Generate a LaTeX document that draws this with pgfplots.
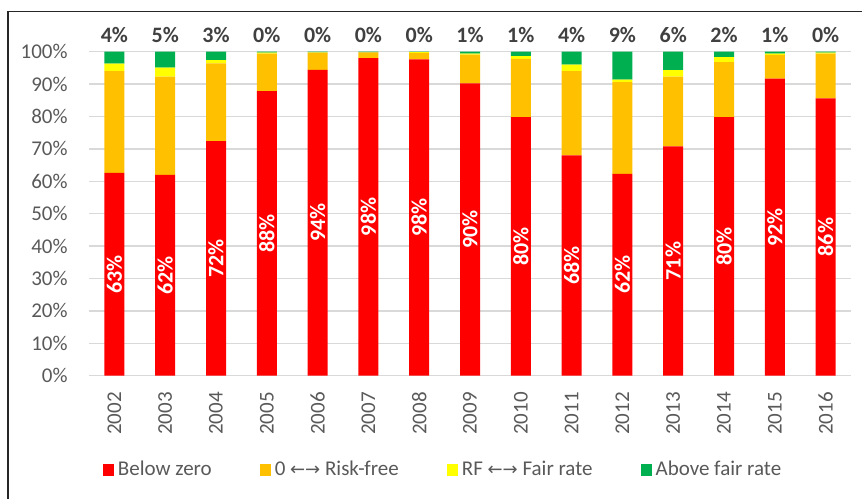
\documentclass[border=0pt]{standalone}
\usepackage{pgfplots}
\pgfplotsset{compat=1.18}
\usepackage{pgfplotstable}
\usepackage{fontspec}
\setmainfont{Carlito}
\newfontfamily\arrowfont{DejaVu Sans}
\definecolor{cRed}{HTML}{FF0000}
\definecolor{cOrange}{HTML}{FFC000}
\definecolor{cYellow}{HTML}{FFFF00}
\definecolor{cGreen}{HTML}{00B050}
\definecolor{cGrid}{HTML}{D9D9D9}
\definecolor{cText}{HTML}{595959}
\definecolor{cDark}{HTML}{404040}

\pgfplotstableread{
x  red   orange yellow green rl gl
0  62.6  31.4   2.3    3.7   63 4
1  62.0  30.3   2.8    4.9   62 5
2  72.4  24.0   1.0    2.6   72 3
3  87.8  11.6   0.3    0.3   88 0
4  94.4  5.3    0.1    0.2   94 0
5  98.0  1.8    0.0    0.2   98 0
6  97.6  2.0    0.3    0.1   98 0
7  90.2  8.9    0.3    0.6   90 1
8  79.8  18.0   0.8    1.4   80 1
9  68.0  26.0   2.0    4.0   68 4
10 62.3  28.3   0.8    8.6   62 9
11 70.8  21.5   2.0    5.7   71 6
12 79.8  17.0   1.5    1.7   80 2
13 91.7  7.3    0.4    0.6   92 1
14 85.6  13.8   0.3    0.3   86 0
}\data

\begin{document}
\begin{tikzpicture}
\useasboundingbox (0,0) rectangle (431pt,249pt);
\draw[line width=0.9pt, black!85] (4pt,-2pt) -- (4pt,243.2pt) -- (433pt,243.2pt);
\begin{axis}[
  at={(44.5pt,61.15pt)}, anchor=south west,
  scale only axis, width=381pt, height=162pt,
  ybar stacked, bar width=10pt,
  xmin=-0.5, xmax=14.5, ymin=0, ymax=100,
  xtick=data,
  xticklabels={2002,2003,2004,2005,2006,2007,2008,2009,2010,2011,2012,2013,2014,2015,2016},
  ytick={0,10,...,100},
  yticklabel={\pgfmathprintnumber{\tick}\%},
  /pgf/number format/assume math mode=true,
  ymajorgrids, grid style={cGrid, line width=0.75pt},
  axis x line*=bottom, axis y line*=left,
  x axis line style={cGrid, line width=0.75pt, -},
  y axis line style={draw=none},
  major tick length=0pt,
  tick label style={font=\fontsize{10.5}{12}\selectfont, text=cText},
  xticklabel style={rotate=90, anchor=east, inner sep=0pt},
  yticklabel style={anchor=east, inner sep=0pt},
  xticklabel shift=8pt,
  yticklabel shift=10.5pt,
  legend style={at={(0.466,-0.291)}, anchor=center, legend columns=4,
    draw=none, fill=none, font=\fontsize{10.5}{12}\selectfont, text=cText,
    /tikz/every even column/.append style={column sep=22pt}},
  legend image code/.code={\fill[#1,draw=none] (0pt,-3pt) rectangle (5.5pt,3pt);},
]
\addplot[fill=cRed, draw=none] table[x=x,y=red]{\data};
\addlegendentry{Below zero}
\addplot[fill=cOrange, draw=none] table[x=x,y=orange]{\data};
\addlegendentry{0 {\arrowfont\fontsize{9}{10}\selectfont ←→} Risk-free}
\addplot[fill=cYellow, draw=none] table[x=x,y=yellow]{\data};
\addlegendentry{RF {\arrowfont\fontsize{9}{10}\selectfont ←→} Fair rate}
\addplot[fill=cGreen, draw=none] table[x=x,y=green]{\data};
\addlegendentry{Above fair rate}
\end{axis}
\begin{axis}[
  at={(44.5pt,61.15pt)}, anchor=south west,
  scale only axis, width=381pt, height=162pt,
  xmin=-0.5, xmax=14.5, ymin=0, ymax=100, hide axis, clip=false]
\addplot[draw=none, mark=none, point meta=explicit symbolic,
  nodes near coords={\pgfplotspointmeta\%},
  nodes near coords style={font=\bfseries\fontsize{11}{13}\selectfont, text=white, rotate=90, anchor=center}]
  table[x=x, y expr=\thisrow{red}/2, meta=rl]{\data};
\addplot[draw=none, mark=none, point meta=explicit symbolic,
  nodes near coords={\pgfplotspointmeta\%},
  nodes near coords style={font=\bfseries\fontsize{11}{13}\selectfont, text=cDark, anchor=center, yshift=8.35pt}]
  table[x=x, y expr=100, meta=gl]{\data};
\end{axis}
\end{tikzpicture}
\end{document}
